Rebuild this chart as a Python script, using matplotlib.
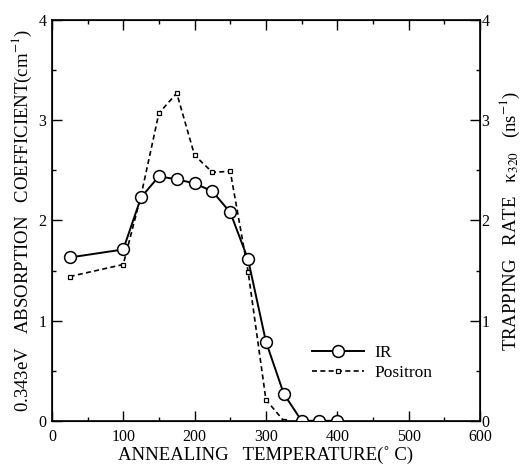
import numpy as np
import matplotlib.pyplot as plt
from matplotlib.ticker import MultipleLocator

plt.rcParams['font.family'] = ['Liberation Serif', 'DejaVu Serif']
plt.rcParams['mathtext.fontset'] = 'stix'

## data
temp_ir = [25, 100, 125, 150, 175, 200, 225, 250, 275, 300, 325, 350, 375, 400]
ir_coef = [1.63, 1.71, 2.23, 2.44, 2.41, 2.37, 2.29, 2.08, 1.61, 0.79, 0.27, 0.0, 0.0, 0.0]

temp_pos = [25, 100, 125, 150, 175, 200, 225, 250, 275, 300, 325]
pos_rate = [1.44, 1.56, 2.25, 3.07, 3.27, 2.65, 2.48, 2.49, 1.49, 0.21, 0.0]

fig = plt.figure(figsize=(5.24, 4.66), dpi=100)
ax = fig.add_axes([0.099, 0.097, 0.817, 0.86])

ax.plot(temp_ir, ir_coef, '-', color='black', lw=1.4, marker='o', ms=8.5,
        mfc='white', mec='black', mew=1.1, label='IR', zorder=3)
ax.plot(temp_pos, pos_rate, '--', color='black', lw=1.2, dashes=(3, 2),
        marker='s', ms=3.5, mfc='white', mec='black', mew=0.9,
        label='Positron', zorder=2)

ax.set_xlim(0, 600)
ax.set_ylim(0, 4)
ax.xaxis.set_major_locator(MultipleLocator(100))
ax.xaxis.set_minor_locator(MultipleLocator(50))
ax.yaxis.set_major_locator(MultipleLocator(1))
ax.yaxis.set_minor_locator(MultipleLocator(0.5))
ax.tick_params(which='both', direction='in', top=True, right=False,
               labelsize=11.5, width=1)
ax.tick_params(which='major', length=7)
ax.tick_params(axis='x', which='major', pad=6)
ax.tick_params(axis='y', which='major', pad=4)
ax.tick_params(which='minor', length=3)
for s in ax.spines.values():
    s.set_linewidth(1.2)

ax2 = ax.twinx()
ax2.set_ylim(0, 4)
ax2.yaxis.set_major_locator(MultipleLocator(1))
ax2.yaxis.set_minor_locator(MultipleLocator(0.5))
ax2.tick_params(which='both', direction='in', labelsize=11.5, width=1, pad=1)
ax2.tick_params(which='major', length=7)
ax2.tick_params(which='minor', length=3)

ax.set_xlabel('ANNEALING   TEMPERATURE(˚ C)', fontsize=13.5, labelpad=1)
ax.set_ylabel('0.343eV   ABSORPTION   COEFFICIENT(cm$^{-1}$)', fontsize=13.5,
              labelpad=3)
ax2.set_ylabel('TRAPPING   RATE   κ$_{320}$   (ns$^{-1}$)', fontsize=13.5,
               labelpad=6)

ax.legend(loc='lower left', bbox_to_anchor=(0.57, 0.06), frameon=False,
          fontsize=12.5, handlelength=3, handletextpad=0.6, labelspacing=0.25)

fig.savefig('out.png', dpi=100)
